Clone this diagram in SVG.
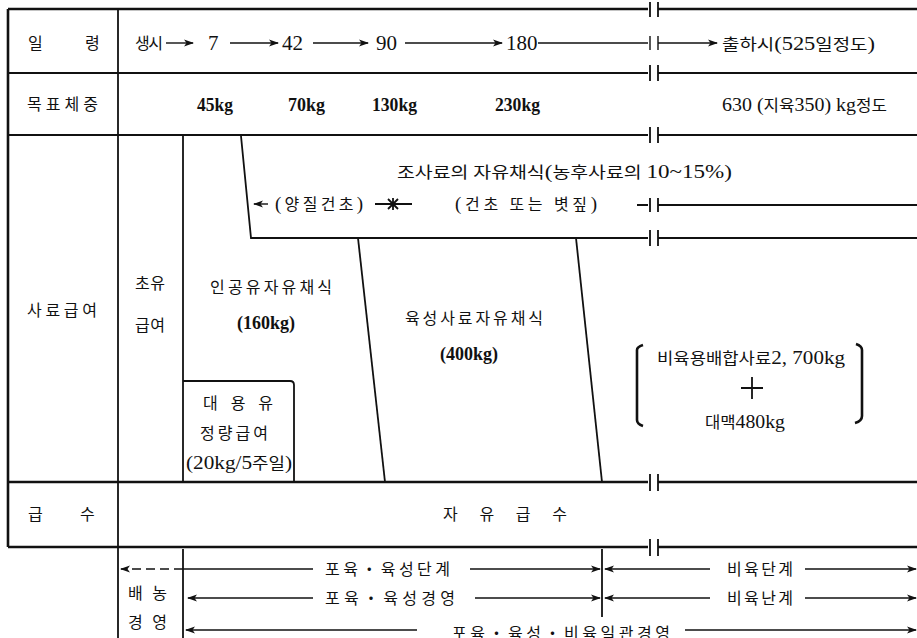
<svg xmlns="http://www.w3.org/2000/svg" width="917" height="638" viewBox="0 0 917 638">
<style>
.k{font-family:"Liberation Serif","Noto Sans CJK KR",serif;font-size:16px;fill:#111}
.n{font-family:"Liberation Serif","Noto Sans CJK KR",serif;font-size:19px;font-weight:bold;fill:#111}
.a{font-family:"Liberation Serif",serif;font-size:21px;fill:#111}
.d{font-family:"Liberation Serif",serif;font-size:19px}
.th{stroke:#111;stroke-width:2.6;fill:none}
.md{stroke:#111;stroke-width:1.8;fill:none}
.tn{stroke:#111;stroke-width:1.4;fill:none}
</style>
<defs>
<marker id="ah" markerWidth="10" markerHeight="8" refX="9" refY="4" orient="auto" markerUnits="userSpaceOnUse">
<path d="M0,0.5 L10,4 L0,7.5 L2.5,4 z" fill="#111"/>
</marker>
</defs>
<rect width="917" height="638" fill="#fff"/>

<g id="table-lines">
<path class="th" d="M8,9 H648 M658,9 H917"/>
<path class="th" d="M8,9 V547"/>
<path class="md" d="M8,73 H648 M658,73 H917"/>
<path class="md" d="M8,135 H648 M658,135 H917"/>
<path class="th" d="M8,482 H648 M658,482 H917"/>
<path class="th" d="M8,547 H648 M658,547 H917"/>
<path class="md" d="M118,9 V638"/>
<path class="md" d="M650,2 V17 M658,2 V17 M650,65 V81 M658,65 V81 M650,127 V143 M658,127 V143 M650,230 V246 M658,230 V246 M650,474 V491 M658,474 V491 M650,539 V556 M658,539 V556"/>
</g>

<g id="feed-region">
<path class="md" d="M183,135 V482"/>
<path class="md" d="M241,136 L251,238 H648 M658,238 H917"/>
<path class="md" d="M358,238 L385,482"/>
<path class="md" d="M576,238 L602,482"/>
<path class="md" d="M183,381 H290 Q294,381 294,385 V482"/>
<path class="th" d="M637,350 Q637,347 643,345 M637,350 V420 Q637,424 643,426"/>
<path class="th" d="M862,350 Q862,346 856,344 M862,350 V416 Q862,421 855,423"/>
<path class="md" d="M752,377 V399 M741,388 H763"/>
</g>

<g id="connectors">
<path class="tn" d="M166,43 H193" marker-end="url(#ah)"/>
<path class="tn" d="M230,43 H278" marker-end="url(#ah)"/>
<path class="tn" d="M313,43 H368" marker-end="url(#ah)"/>
<path class="tn" d="M405,43 H502" marker-end="url(#ah)"/>
<path class="tn" d="M538,43 H648 M650,36 V50 M658,36 V50"/>
<path class="tn" d="M658,43 H717" marker-end="url(#ah)"/>
<path class="tn" d="M268,204 H254" marker-end="url(#ah)"/>
<path class="md" d="M375,204 H412 M388,199 L398,209 M398,199 L388,209 M393,198 V210"/>
<path class="md" d="M637,205 H648 M650,198 V212 M658,198 V212 M658,205 H917"/>
<path class="tn" d="M183,569 H121" stroke-dasharray="9,5" marker-end="url(#ah)"/>
<path class="tn" d="M183,569 H313"/>
<path class="tn" d="M470,569 H600" marker-end="url(#ah)"/>
<path class="tn" d="M710,569 H605" marker-end="url(#ah)"/>
<path class="tn" d="M805,569 H916" marker-end="url(#ah)"/>
<path class="tn" d="M313,598 H188" marker-end="url(#ah)"/>
<path class="tn" d="M475,598 H600" marker-end="url(#ah)"/>
<path class="tn" d="M710,598 H605" marker-end="url(#ah)"/>
<path class="tn" d="M805,598 H916" marker-end="url(#ah)"/>
<path class="tn" d="M417,630 H186" marker-end="url(#ah)"/>
<path class="tn" d="M685,630 H916" marker-end="url(#ah)"/>
<path class="md" d="M183,549 V638"/>
<path class="md" d="M602,549 V617"/>
</g>

<g id="labels">
<text class="k" x="28" y="49">일</text>
<text class="k" x="85" y="49">령</text>
<text class="k" x="135" y="49" textLength="28">생시</text>
<text class="a" x="208" y="50">7</text>
<text class="a" x="282" y="50">42</text>
<text class="a" x="376" y="50">90</text>
<text class="a" x="506" y="50">180</text>
<text class="k" x="722" y="50" textLength="153" lengthAdjust="spacingAndGlyphs">출하시<tspan class="d">(525</tspan>일정도<tspan class="d">)</tspan></text>

<text class="k" x="27" y="110" textLength="71">목표체중</text>
<text class="n" x="197" y="111" textLength="36" lengthAdjust="spacingAndGlyphs">45kg</text>
<text class="n" x="288" y="111" textLength="37" lengthAdjust="spacingAndGlyphs">70kg</text>
<text class="n" x="372" y="111" textLength="45" lengthAdjust="spacingAndGlyphs">130kg</text>
<text class="n" x="495" y="111" textLength="45" lengthAdjust="spacingAndGlyphs">230kg</text>
<text class="k" x="722" y="111" textLength="165" lengthAdjust="spacingAndGlyphs"><tspan class="d">630 (</tspan>지육<tspan class="d">350) kg</tspan>정도</text>

<text class="k" x="397" y="178" textLength="335" lengthAdjust="spacingAndGlyphs">조사료의 자유채식<tspan class="d">(</tspan>농후사료의 <tspan class="d">10~15%)</tspan></text>
<text class="k" x="275" y="210" textLength="88"><tspan class="d">(</tspan>양질건초<tspan class="d">)</tspan></text>
<text class="k" x="455" y="210" textLength="142"><tspan class="d">(</tspan>건초 또는 볏짚<tspan class="d">)</tspan></text>

<text class="k" x="27" y="316" textLength="70">사료급여</text>
<text class="k" x="135" y="289" textLength="30">초유</text>
<text class="k" x="135" y="331" textLength="30">급여</text>
<text class="k" x="210" y="293" textLength="122">인공유자유채식</text>
<text class="n" x="237" y="329" textLength="58" lengthAdjust="spacingAndGlyphs">(160kg)</text>
<text class="k" x="405" y="324" textLength="138">육성사료자유채식</text>
<text class="n" x="440" y="360" textLength="58" lengthAdjust="spacingAndGlyphs">(400kg)</text>
<text class="k" x="203" y="409" textLength="70">대 용 유</text>
<text class="k" x="200" y="439" textLength="68">정량급여</text>
<text class="k" x="186" y="469" textLength="106" lengthAdjust="spacingAndGlyphs"><tspan class="d">(20kg/5</tspan>주일<tspan class="d">)</tspan></text>
<text class="k" x="657" y="364" textLength="188" lengthAdjust="spacingAndGlyphs">비육용배합사료<tspan class="d">2, 700kg</tspan></text>
<text class="k" x="705" y="428" textLength="80" lengthAdjust="spacingAndGlyphs">대맥<tspan class="d">480kg</tspan></text>

<text class="k" x="28" y="520">급</text>
<text class="k" x="80" y="520">수</text>
<text class="k" x="443" y="520" textLength="124">자 유 급 수</text>

<text class="k" x="128" y="599" textLength="39">배농</text>
<text class="k" x="128" y="628" textLength="39">경영</text>
<text class="k" x="325" y="575" textLength="125">포육・육성단계</text>
<text class="k" x="325" y="604" textLength="130">포육・육성경영</text>
<text class="k" x="452" y="639" textLength="218">포육・육성・비육일관경영</text>
<text class="k" x="727" y="575" textLength="66">비육단계</text>
<text class="k" x="727" y="604" textLength="66">비육난계</text>
</g>
</svg>
